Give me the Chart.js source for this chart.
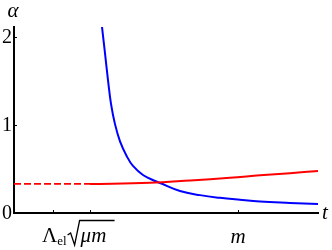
<!DOCTYPE html>
<html><head><meta charset="utf-8">
<script src="https://cdn.jsdelivr.net/npm/chart.js@4"></script>
<style>html,body{margin:0;padding:0;background:#fff}#w{width:332px;height:250px}</style>
</head><body><div id="w"><canvas id="c"></canvas></div>
<script>
// t-axis values and alpha values
const blueT = [2.895, 2.993, 3.092, 3.191, 3.322, 3.487, 3.717, 3.914, 4.243, 4.638, 4.803, 5.461, 6.118, 6.776, 7.434, 8.092, 9.079, 10];
const blueA = [2.114, 1.818, 1.511, 1.240, 1.010, 0.815, 0.640, 0.535, 0.432, 0.364, 0.341, 0.250, 0.203, 0.172, 0.150, 0.131, 0.115, 0.102];
const redT = [2.5, 4.474, 5.8, 7.105, 8.092, 9.079, 10];
const redA = [0.33, 0.343, 0.370, 0.400, 0.428, 0.453, 0.477];
const redDashT = [0, 2.5];
const redDashA = [0.33, 0.33];
const xTicks = [1.28, 2.5, 7.37];
const xTickLabels = ['', 'Λel√μm', 'm'];
const yTicks = [0, 1, 2];
const yTickLabels = ['0', '1', '2'];

const zip = (xs, ys) => xs.map((x, i) => ({x, y: ys[i]}));
const SERIF = '"Liberation Serif", "DejaVu Serif", serif';

const deco = {
  id: 'deco',
  afterDraw(chart) {
    const ctx = chart.ctx, xs = chart.scales.x, ys = chart.scales.y;
    const a = chart.chartArea;
    ctx.save();
    ctx.strokeStyle = '#000'; ctx.fillStyle = '#000'; ctx.lineWidth = 1;
    xTicks.forEach(v => {
      const px = Math.round(xs.getPixelForValue(v)) + 0.5;
      ctx.beginPath(); ctx.moveTo(px, a.bottom); ctx.lineTo(px, a.bottom - 3); ctx.stroke();
    });
    yTicks.forEach(v => {
      if (v === 0) return;
      const py = Math.round(ys.getPixelForValue(v)) + 0.5;
      ctx.beginPath(); ctx.moveTo(a.left, py); ctx.lineTo(a.left + 3, py); ctx.stroke();
    });
    ctx.font = '20px ' + SERIF;
    ctx.textAlign = 'right'; ctx.textBaseline = 'middle';
    yTicks.forEach((v, i) => {
      ctx.fillText(yTickLabels[i], a.left - 2, ys.getPixelForValue(v) + 1);
    });
    const mx = xs.getPixelForValue(xTicks[2]);
    ctx.font = 'italic 21px ' + SERIF;
    ctx.textAlign = 'center'; ctx.textBaseline = 'alphabetic';
    ctx.fillText(xTickLabels[2], mx, 243);
    const lx = xs.getPixelForValue(xTicks[1]) - 48;
    ctx.textAlign = 'left';
    ctx.font = '21px ' + SERIF;
    ctx.fillText('Λ', lx, 242);
    let w = ctx.measureText('Λ').width;
    ctx.font = '13px ' + SERIF;
    ctx.fillText('el', lx + w, 245);
    w += ctx.measureText('el').width + 1;
    const rx = lx + w;
    ctx.lineWidth = 1.3;
    ctx.beginPath();
    ctx.moveTo(rx, 235); ctx.lineTo(rx + 3, 233); ctx.lineTo(rx + 7, 245);
    ctx.lineTo(rx + 12, 220.5); ctx.lineTo(rx + 47, 220.5);
    ctx.stroke();
    ctx.font = 'italic 21px ' + SERIF;
    ctx.fillText('μm', rx + 13, 242);
    ctx.font = 'italic 21px ' + SERIF;
    ctx.textAlign = 'center'; ctx.textBaseline = 'middle';
    ctx.fillText('α', 13, 11);
    ctx.fillText('t', 325, 213);
    ctx.restore();
  }
};

new Chart(document.getElementById('c'), {
  type: 'line',
  data: {
    datasets: [
      {data: zip(redDashT, redDashA), borderColor: '#ff0000', borderWidth: 1.8, borderDash: [7, 3], pointRadius: 0},
      {data: zip(redT, redA), borderColor: '#ff0000', borderWidth: 2, pointRadius: 0, tension: 0.4},
      {data: zip(blueT, blueA), borderColor: '#0000ff', borderWidth: 2, pointRadius: 0, tension: 0.4}
    ]
  },
  options: {
    responsive: true, maintainAspectRatio: false, animation: false,
    layout: {padding: {top: 27, right: 14, left: 0, bottom: 0}},
    plugins: {legend: {display: false}, tooltip: {enabled: false}},
    scales: {
      x: {type: 'linear', min: 0, max: 10,
          grid: {display: false}, ticks: {display: false},
          border: {display: true, color: '#000', width: 2},
          afterFit(s) { s.height = 37; }},
      y: {type: 'linear', min: 0, max: 2.114,
          grid: {display: false}, ticks: {display: false},
          border: {display: true, color: '#000', width: 2},
          afterFit(s) { s.width = 14; }}
    }
  },
  plugins: [deco]
});
</script></body></html>
